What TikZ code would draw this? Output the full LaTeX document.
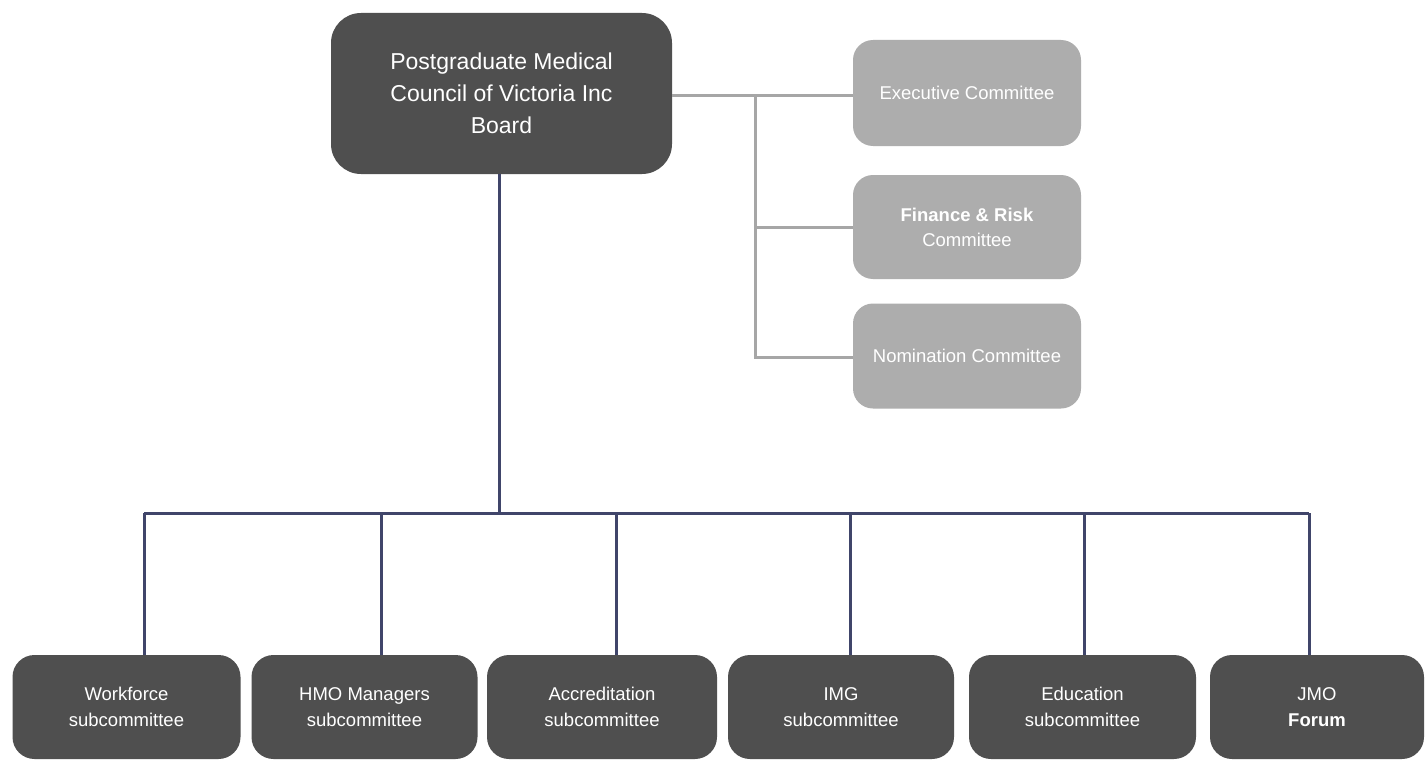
\documentclass[tikz,border=0pt]{standalone}
\usepackage{fontspec}
\setmainfont{Liberation Sans}
\begin{document}
\begin{tikzpicture}[x=1pt,y=-1pt,
  darkbox/.style={fill=darkfill,draw=none,rounded corners=22pt,text=white,align=center,inner sep=0pt},
  greybox/.style={fill=greyfill,draw=none,rounded corners=20pt,text=white,align=center,inner sep=0pt,
     minimum width=228pt,font=\fontsize{18.5}{25}\selectfont},
  subbox/.style={darkbox,minimum height=104pt,font=\fontsize{18.5}{26.5}\selectfont},
  greyline/.style={draw=greyline,line width=3pt},
  navyline/.style={draw=navyline,line width=3pt}]
\definecolor{darkfill}{HTML}{4F4F4F}
\definecolor{greyfill}{HTML}{ADADAD}
\definecolor{greyline}{HTML}{A6A6A6}
\definecolor{navyline}{HTML}{40456A}
\useasboundingbox (0,0) rectangle (1427,760);
\fill[white] (0,0) rectangle (1427,760);

% top board
\node[darkbox,minimum width=341pt,minimum height=161pt,rounded corners=30pt,
  font=\fontsize{23}{32}\selectfont] (board) at (501.5,93.5)
  {Postgraduate Medical\\Council of Victoria Inc\\Board};

% grey committees
\node[greybox,minimum height=106pt] (exec) at (967,93) {Executive Committee};
\node[greybox,minimum height=104pt] (fin) at (967,227) {\textbf{Finance \& Risk}\\Committee};
\node[greybox,minimum height=105pt] (nom) at (967,356) {Nomination Committee};

% bottom subcommittees
\node[subbox,minimum width=228pt] (work) at (126.5,707) {Workforce\\subcommittee};
\node[subbox,minimum width=226pt] (hmo) at (364.5,707) {HMO Managers\\subcommittee};
\node[subbox,minimum width=230pt] (accr) at (602,707) {Accreditation\\subcommittee};
\node[subbox,minimum width=226pt] (img) at (841,707) {IMG\\subcommittee};
\node[subbox,minimum width=227pt] (edu) at (1082.5,707) {Education\\subcommittee};
\node[subbox,minimum width=214pt] (jmo) at (1317,707) {JMO\\\textbf{Forum}};

% grey connectors
\coordinate (gtop) at (755,95);
\coordinate (gbot) at (755,357);
\draw[greyline] (board.east |- gtop) -- (exec.west |- gtop);
\draw[greyline] (gtop) -- (gbot) -- (nom.west |- gbot);
\draw[greyline] (gtop |- fin.west) -- (fin.west);

% navy connectors
\coordinate (bus) at (499,513);
\draw[navyline] (board.south -| bus) -- (bus);
\draw[navyline] (144,513) -- (1309,513);
\foreach \n/\xx in {work/144,hmo/381,accr/616,img/850,edu/1084,jmo/1309}{
  \draw[navyline] (\xx,513) -- (\n.north -| {(\xx,513)});
}
\end{tikzpicture}
\end{document}
